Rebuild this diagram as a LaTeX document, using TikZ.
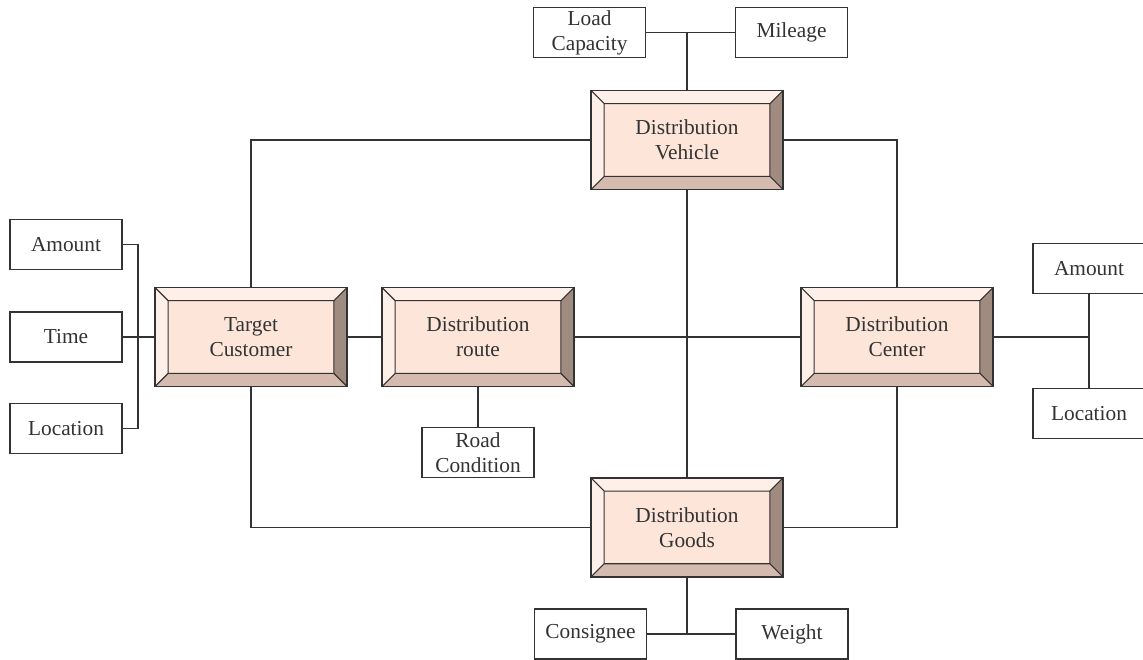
\documentclass[tikz,border=0pt]{standalone}
\usepackage{fontspec}
\setmainfont{Liberation Serif}
\definecolor{facecol}{HTML}{FDE5D9}
\definecolor{litecol}{HTML}{FEEFE8}
\definecolor{darkcol}{HTML}{A08B80}
\definecolor{lowcol}{HTML}{D5BBAF}
\definecolor{inkcol}{HTML}{333333}
\newcommand{\bevdepth}{9.9pt}

\begin{document}
\begin{tikzpicture}
  [x=0.75pt, y=-0.75pt, draw=inkcol, line width=0.9pt, text=inkcol,
   font=\fontsize{16}{18.75}\selectfont,
   box/.style={draw, fill=white, minimum width=84pt, minimum height=37.5pt, inner sep=0pt, align=center},
   bevel/.style={draw, line width=1.2pt, fill=facecol, minimum width=144pt, minimum height=74.25pt, inner sep=0pt, align=center,
     path picture={
       \coordinate (sw) at (path picture bounding box.south west);
       \coordinate (nw) at (path picture bounding box.north west);
       \coordinate (ne) at (path picture bounding box.north east);
       \coordinate (se) at (path picture bounding box.south east);
       \fill[litecol] (sw) -- (nw) -- ([shift={(\bevdepth,-\bevdepth)}]nw) -- ([shift={(\bevdepth,\bevdepth)}]sw) -- cycle;
       \fill[litecol] (nw) -- (ne) -- ([shift={(-\bevdepth,-\bevdepth)}]ne) -- ([shift={(\bevdepth,-\bevdepth)}]nw) -- cycle;
       \fill[darkcol] (ne) -- (se) -- ([shift={(-\bevdepth,\bevdepth)}]se) -- ([shift={(-\bevdepth,-\bevdepth)}]ne) -- cycle;
       \fill[lowcol] (se) -- (sw) -- ([shift={(\bevdepth,\bevdepth)}]sw) -- ([shift={(-\bevdepth,\bevdepth)}]se) -- cycle;
       \draw[inkcol, line width=0.8pt] ([shift={(\bevdepth,\bevdepth)}]sw) rectangle ([shift={(-\bevdepth,-\bevdepth)}]ne)
         (sw) -- ++(\bevdepth,\bevdepth) (nw) -- ++(\bevdepth,-\bevdepth)
         (ne) -- ++(-\bevdepth,-\bevdepth) (se) -- ++(-\bevdepth,\bevdepth);
     }}]
  \useasboundingbox (0,0) rectangle (1143,660);

  \node [name=veh, bevel] at (687,140) {Distribution\\Vehicle};
  \node [name=goods, bevel, below of=veh, node distance=290.6pt] {Distribution\\Goods};
  \node [name=cust, bevel] at (251,337) {Target\\Customer};
  \node [name=route, bevel, right of=cust, node distance=170.25pt] {Distribution\\route};
  \node [name=dc, bevel, right of=route, node distance=314.25pt] {Distribution\\Center};

  \coordinate [name=jt, above of=veh, node distance=80.6pt];
  \node [name=load, box, left of=jt, node distance=73.1pt] {Load\\Capacity};
  \node [name=mileage, box, right of=jt, node distance=78.4pt] {Mileage};

  \node [name=timeL, box, left of=cust, node distance=138.75pt] {Time};
  \node [name=amountL, box, above of=timeL, node distance=69.4pt] {Amount};
  \node [name=locL, box, below of=timeL, node distance=68.6pt] {Location};
  \coordinate [name=jl, right of=timeL, node distance=54pt];

  \node [name=road, box, below of=route, node distance=86.6pt] {Road\\Condition};

  \coordinate [name=jr, right of=dc, node distance=144pt];
  \node [name=amountR, box, above of=jr, node distance=51.4pt] {Amount};
  \node [name=locR, box, below of=jr, node distance=57.4pt] {Location};

  \coordinate [name=jb, below of=goods, node distance=79.9pt];
  \node [name=consignee, box, left of=jb, node distance=72.4pt] {Consignee};
  \node [name=weight, box, right of=jb, node distance=78.75pt] {Weight};

  \path (load.east) edge (mileage.west)
        (jt) edge (veh.north)
        (veh.south) edge (goods.north)
        (cust.east) edge (route.west)
        (route.east) edge (dc.west)
        (route.south) edge (road.north)
        (timeL.east) edge (cust.west)
        (dc.east) edge (jr)
        (amountR.south) edge (locR.north)
        (goods.south) edge (jb)
        (consignee.east) edge (weight.west);
  \draw (amountL.east) -| (jl) |- (locL.east);
  \draw (cust.north) |- (veh.west);
  \draw (veh.east) -| (dc.north);
  \draw (cust.south) |- (goods.west);
  \draw (goods.east) -| (dc.south);
\end{tikzpicture}
\end{document}
